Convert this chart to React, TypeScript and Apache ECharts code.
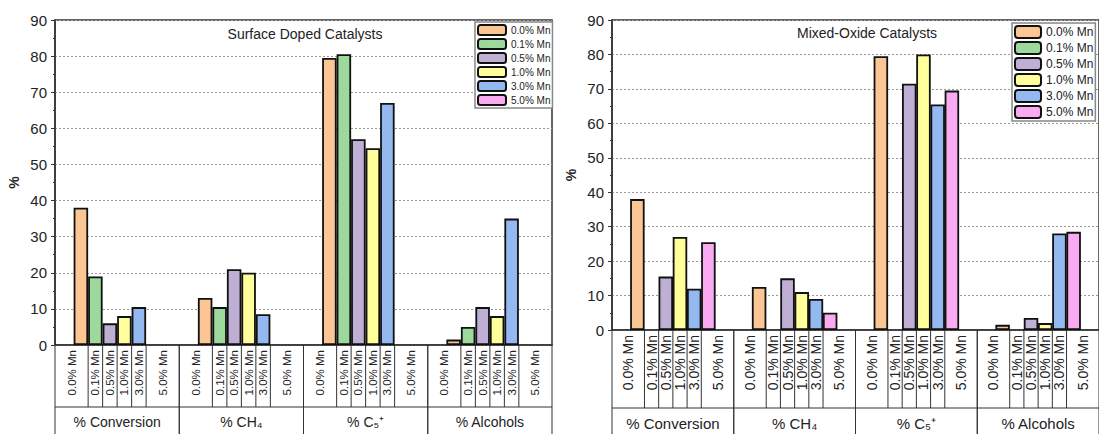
import React, { useEffect, useRef } from "react";
import * as echarts from "echarts";

const groups = ["% Conversion", "% CH₄", "% C₅⁺", "% Alcohols"];
const loadings = ["0.0% Mn", "0.1% Mn", "0.5% Mn", "1.0% Mn", "3.0% Mn", "5.0% Mn"];
const colors = ["#FBC693", "#9DD89C", "#BFAFD5", "#FEFE9A", "#94B8F0", "#F9AAF1"];

// values per loading, across groups [Conversion, CH4, C5+, Alcohols]
const surface = [
  [38, 13, 79.5, 1.5],
  [19, 10.5, 80.5, 5],
  [6, 21, 57, 10.5],
  [8, 20, 54.5, 8],
  [10.5, 8.5, 67, 35],
  [null, null, null, null],
];
const mixed = [
  [38, 12.5, 79.5, 1.5],
  [null, null, null, null],
  [15.5, 15, 71.5, 3.5],
  [27, 11, 80, 2],
  [12, 9, 65.5, 28],
  [25.5, 5, 69.5, 28.5],
];

const M = 0.9, W = 0.7;
const bnd = (g: number, k: number) => 6 * g + M + W * k;
const labelX = (g: number, i: number) =>
  i === 0 ? (6 * g + bnd(g, 1)) / 2 : i === 5 ? (bnd(g, 5) + 6 * g + 6) / 2 : bnd(g, i) + W / 2;

function panel(idx: number, vals: (number | null)[][], cellH: number, lblFont: number, grpFont: number, barW: number) {
  const series: any[] = vals.map((arr, i) => ({
    name: loadings[i],
    type: "bar",
    xAxisIndex: idx,
    yAxisIndex: idx,
    barWidth: barW,
    barGap: "-100%",
    itemStyle: { color: colors[i], borderColor: "#111", borderWidth: 1.8 },
    data: arr.map((v, g) => (v == null ? null : [bnd(g, i) + W / 2, v])),
  }));
  series.push({
    type: "custom",
    xAxisIndex: idx,
    yAxisIndex: idx,
    clip: false,
    silent: true,
    data: groups.map((_, g) => [g]),
    renderItem: (params: any, api: any) => {
      const g = api.value(0);
      const y0 = api.coord([0, 0])[1];
      const yb = y0 + cellH;
      const children: any[] = [];
      const ln = (x: number, ya: number, yb2: number) =>
        children.push({ type: "line", shape: { x1: x, y1: ya, x2: x, y2: yb2 }, style: { stroke: "#333", lineWidth: 1 } });
      const xs = api.coord([6 * g, 0])[0];
      const xe = api.coord([6 * g + 6, 0])[0];
      ln(xs, y0, 440);
      ln(xe, y0, 440);
      for (let k = 1; k <= 5; k++) ln(api.coord([bnd(g, k), 0])[0], y0, yb);
      children.push({ type: "line", shape: { x1: xs, y1: yb, x2: xe, y2: yb }, style: { stroke: "#333", lineWidth: 1 } });
      for (let i = 0; i < 6; i++) {
        const x = api.coord([labelX(g, i), 0])[0];
        children.push({
          type: "text", x, y: y0 + 5, rotation: Math.PI / 2,
          style: { text: loadings[i], align: "right", verticalAlign: "middle", fontSize: lblFont, fill: "#222", fontFamily: "Arial, Liberation Sans" },
        });
      }
      children.push({
        type: "text", x: (xs + xe) / 2, y: yb + 15,
        style: { text: groups[g], align: "center", verticalAlign: "middle", fontSize: grpFont, fill: "#222", fontFamily: "Arial, Liberation Sans" },
      });
      return { type: "group", children };
    },
  });
  return series;
}

export default function App() {
  const ref = useRef<HTMLDivElement>(null);
  useEffect(() => {
    const chart = echarts.init(ref.current!, undefined, { renderer: "svg" });
    const yAx = (i: number) => ({
      type: "value", gridIndex: i, min: 0, max: 90, interval: 10,
      name: "%", nameLocation: "middle", nameGap: 34, nameTextStyle: { fontSize: 14, fontWeight: "bold", color: "#222" },
      axisLine: { show: true, lineStyle: { color: "#333", width: 1.5 } },
      axisTick: { show: true, length: 4, lineStyle: { color: "#333" } },
      minorTick: { show: true, splitNumber: 2, length: 2, lineStyle: { color: "#333" } },
      axisLabel: { fontSize: 15, color: "#222", fontFamily: "Arial, Liberation Sans" },
      splitLine: { show: true, lineStyle: { color: "#999", type: [2, 2] } },
    });
    const xAx = (i: number) => ({
      type: "value", gridIndex: i, min: 0, max: 24,
      axisLine: { show: true, onZero: false, lineStyle: { color: "#333", width: 1.5 } },
      axisTick: { show: false }, axisLabel: { show: false }, splitLine: { show: false },
    });
    const legend = (left: number, top: number, iw: number, ih: number, fs: number) => ({
      orient: "vertical", left, top, itemWidth: iw, itemHeight: ih, itemGap: 2,
      backgroundColor: "#fff", borderColor: "#888", borderWidth: 1.5, padding: 2,
      textStyle: { fontSize: fs, color: "#222", fontFamily: "Arial, Liberation Sans" },
      data: loadings, selectedMode: false,
    });
    chart.setOption({
      animation: false,
      title: [
        { text: "Surface Doped Catalysts", left: 300, top: 22, textAlign: "center", textStyle: { fontSize: 14, fontWeight: "normal", color: "#222", fontFamily: "Arial, Liberation Sans" } },
        { text: "Mixed-Oxide Catalysts", left: 862, top: 21, textAlign: "center", textStyle: { fontSize: 14, fontWeight: "normal", color: "#222", fontFamily: "Arial, Liberation Sans" } },
      ],
      legend: [legend(475, 22, 28, 10, 10), legend(1012, 23, 26, 12, 12)],
      grid: [
        { left: 55, top: 20, width: 497, height: 325, show: true, borderColor: "#333", borderWidth: 1.5, backgroundColor: "transparent" },
        { left: 612, top: 20, width: 497, height: 310, show: true, borderColor: "#333", borderWidth: 1.5, backgroundColor: "transparent" },
      ],
      xAxis: [xAx(0), xAx(1)],
      yAxis: [yAx(0), yAx(1)],
      series: [...panel(0, surface, 62, 11.5, 14, 14.5), ...panel(1, mixed, 78, 14, 15, 14.5)],
    });
    return () => chart.dispose();
  }, []);
  return <div ref={ref} style={{ position: "fixed", left: 0, top: 0, width: 1099, height: 434, background: "#fff" }} />;
}
